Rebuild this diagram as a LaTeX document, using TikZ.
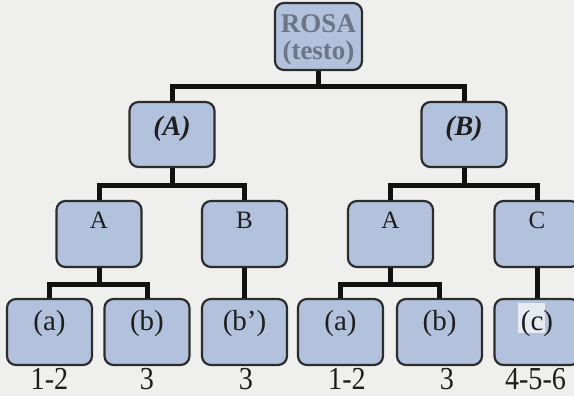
\documentclass[tikz,border=0pt]{standalone}
\usepackage{fontspec}
\setmainfont{Liberation Serif}
\newfontfamily\numfont[FakeStretch=0.88]{Liberation Serif}
\definecolor{paper}{HTML}{EFEFED}
\definecolor{boxfill}{HTML}{B3C2DC}
\definecolor{boxline}{HTML}{2C2C2C}
\definecolor{linkc}{HTML}{111111}
\definecolor{txt}{HTML}{1E1E1E}
\definecolor{roottxt}{HTML}{6B7585}
\definecolor{cpatch}{HTML}{E6EBF3}
\begin{document}
\begin{tikzpicture}[x=1pt,y=-1pt,
  box/.style={draw=boxline, line width=2.2pt, fill=boxfill, rounded corners=9pt,
    minimum width=85pt, minimum height=66pt, inner sep=0pt, text=txt},
  rootbox/.style={box, minimum width=87pt, minimum height=67pt,
    font=\fontsize{27}{28}\selectfont\bfseries, text=roottxt, align=center,
    text height=51pt, text depth=4pt},
  midbox/.style={box, minimum height=65pt,
    font=\fontsize{28}{30}\selectfont\bfseries\itshape,
    text height=20pt, text depth=18pt},
  lvlbox/.style={box, font=\fontsize{25}{28}\selectfont,
    text height=18pt, text depth=28pt},
  leaf/.style={box, font=\fontsize{29}{32}\selectfont,
    text height=20pt, text depth=23pt},
  lbl/.style={font=\numfont\fontsize{32}{36}\selectfont, anchor=base, inner sep=0pt,
    text depth=0pt, text=txt},
  link/.style={line width=5pt, draw=linkc}]
  \clip (0,0) rectangle (574,396);
  \fill[paper] (0,0) rectangle (574,396);

  % root
  \node[rootbox] (root) at (318.5,36.5) {ROSA\\(testo)};

  % second level
  \node[midbox] (A2) at (172,134.5) {(A)};
  \node[midbox] (B2) at (464,134.5) {(B)};

  % third level
  \node[lvlbox] (A3) at (99,234) {A};
  \node[lvlbox] (B3) at (244.5,234) {B};
  \node[lvlbox] (A3r) at (390.5,234) {A};
  \node[lvlbox] (C3) at (537,234) {C};

  % leaves
  \node[leaf] (a1) at (49.5,332) {(a)};
  \node[leaf] (b1) at (147,332) {(b)};
  \node[leaf] (bp) at (244.5,332) {(b’)};
  \node[leaf] (a2) at (340.5,332) {(a)};
  \node[leaf] (b2) at (439.5,332) {(b)};
  \node[leaf, path picture={\fill[cpatch, sharp corners]
      ([shift={(-19pt,29pt)}]path picture bounding box.center) rectangle ++(27pt,-30pt);}]
    (c1) at (537,332) {(c)\hspace{9pt}};

  % numbers under the leaves
  \node[lbl] (n1) at (49.5,389.5) {1-2};
  \node[lbl] (n2) at (147,389.5) {3};
  \node[lbl] (n3) at (246,389.5) {3};
  \node[lbl] (n4) at (347,389.5) {1-2};
  \node[lbl] (n5) at (447,389.5) {3};
  \node[lbl] (n6) at (535.5,389.5) {4-5-6};

  % connectors
  \draw[link] (root.south) -- ++(0,15) coordinate (j0);
  \draw[link] (A2.north) |- (j0) -| (B2.north);

  \draw[link] (A2.south) -- ++(0,17) coordinate (j1);
  \draw[link] (A3.north) |- (j1) -| (B3.north);
  \draw[link] (B2.south) -- ++(0,17) coordinate (j2);
  \draw[link] (A3r.north) |- (j2) -| (C3.north);

  \draw[link] (A3.south) -- ++(0,16) coordinate (j3);
  \draw[link] (a1.north) |- (j3) -| (b1.north);
  \draw[link] (B3.south) -- (bp.north);
  \draw[link] (A3r.south) -- ++(0,16) coordinate (j4);
  \draw[link] (a2.north) |- (j4) -| (b2.north);
  \draw[link] (C3.south) -- (c1.north);
\end{tikzpicture}
\end{document}
